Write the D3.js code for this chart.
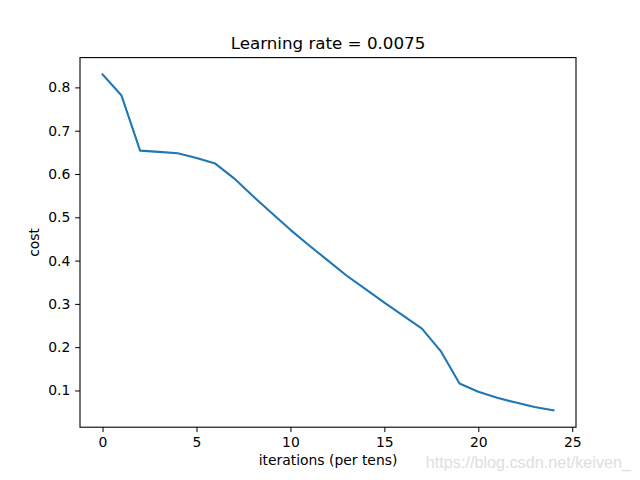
<!DOCTYPE html>
<html><head><meta charset="utf-8">
<script src="https://cdn.jsdelivr.net/npm/d3@7"></script>
<style>body{margin:0;background:#fff}svg{display:block}text{font-family:"DejaVu Sans",sans-serif}</style>
</head><body><svg id="c" width="640" height="480"></svg>
<script>
const iterations = d3.range(0, 25);
const costs = [0.830, 0.782, 0.654, 0.651, 0.648, 0.637, 0.624, 0.590, 0.549, 0.510, 0.471,
  0.435, 0.400, 0.365, 0.334, 0.303, 0.273, 0.243, 0.191, 0.116, 0.097, 0.083, 0.072, 0.062, 0.054];
const xTicks = [0, 5, 10, 15, 20, 25];
const yTicks = [0.1, 0.2, 0.3, 0.4, 0.5, 0.6, 0.7, 0.8];
const title = "Learning rate = 0.0075";
const xLabel = "iterations (per tens)";
const yLabel = "cost";
const watermark = "https://blog.csdn.net/keiven_";

const svg = d3.select("#c");
const L = 80, R = 576, T = 57.6, B = 427.2;
const ymin = d3.min(costs), ymax = d3.max(costs), pad = (ymax - ymin) * 0.05;
const x = d3.scaleLinear().domain([-1.2, 25.2]).range([L, R]);
const y = d3.scaleLinear().domain([ymin - pad, ymax + pad]).range([B, T]);

const gx = svg.append("g").attr("transform", `translate(0,${B})`)
  .call(d3.axisBottom(x).tickValues(xTicks).tickSize(4.86).tickPadding(4.9).tickFormat(d3.format("d")));
const gy = svg.append("g").attr("transform", `translate(${L},0)`)
  .call(d3.axisLeft(y).tickValues(yTicks).tickSize(4.86).tickPadding(4.9).tickFormat(d3.format(".1f")));
[gx, gy].forEach(g => {
  g.select(".domain").remove();
  g.selectAll("line").attr("stroke", "#000").attr("stroke-width", 1);
  g.selectAll("text").attr("font-size", "13.9px").attr("fill", "#000").style("font-family", "DejaVu Sans");
});

svg.append("path").datum(iterations.map((d, i) => [d, costs[i]]))
  .attr("fill", "none").attr("stroke", "#1f77b4").attr("stroke-width", 2.08)
  .attr("stroke-linejoin", "round").attr("stroke-linecap", "square")
  .attr("d", d3.line().x(d => x(d[0])).y(d => y(d[1])));

svg.append("rect").attr("x", L).attr("y", T).attr("width", R - L).attr("height", B - T)
  .attr("fill", "none").attr("stroke", "#000").attr("stroke-width", 1.1);

svg.append("text").attr("x", (L + R) / 2).attr("y", 49.3).attr("text-anchor", "middle")
  .attr("font-size", "16.7px").text(title);
svg.append("text").attr("x", (L + R) / 2).attr("y", 465).attr("text-anchor", "middle")
  .attr("font-size", "13.9px").text(xLabel);
svg.append("text").attr("transform", `translate(39,${(T + B) / 2}) rotate(-90)`).attr("text-anchor", "middle")
  .attr("font-size", "13.9px").text(yLabel);
svg.append("text").attr("x", 631).attr("y", 468).attr("text-anchor", "end")
  .attr("font-size", "16.2px").attr("fill", "#dedede").style("font-family", "Liberation Sans, Arial, sans-serif").text(watermark);
</script></body></html>
